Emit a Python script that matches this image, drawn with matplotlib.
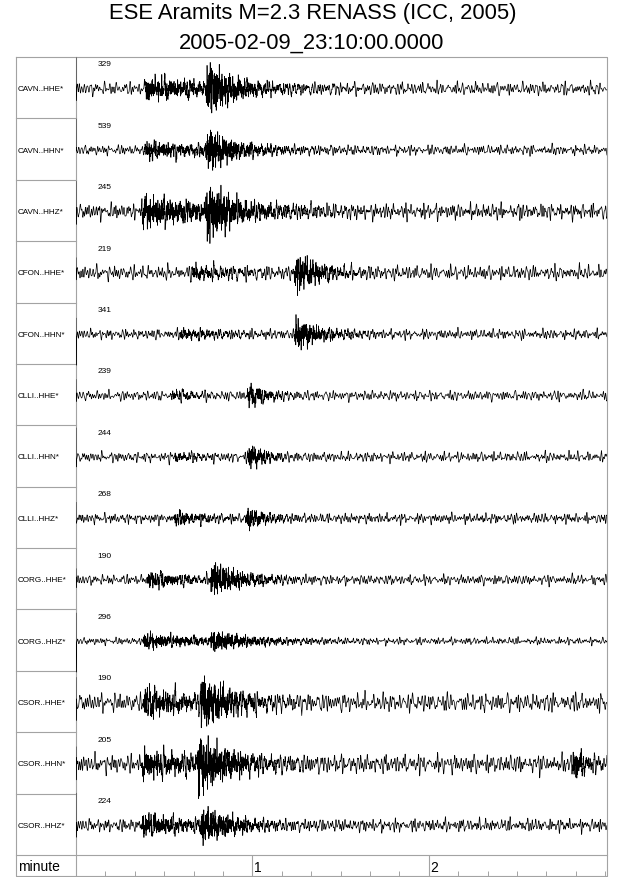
import numpy as np
import matplotlib
matplotlib.use("Agg")
import matplotlib.pyplot as plt
from matplotlib.transforms import blended_transform_factory

# ---------------- data ----------------
title = "ESE Aramits M=2.3 RENASS (ICC, 2005)"
subtitle = "2005-02-09_23:10:00.0000"
stations = ["CAVN..HHE*", "CAVN..HHN*", "CAVN..HHZ*", "CFON..HHE*", "CFON..HHN*",
            "CLLI..HHE*", "CLLI..HHN*", "CLLI..HHZ*", "CORG..HHE*", "CORG..HHZ*",
            "CSOR..HHE*", "CSOR..HHN*", "CSOR..HHZ*"]
max_counts = [329, 539, 245, 219, 341, 239, 244, 268, 190, 296, 190, 205, 224]
# background noise half-amplitude (pixels)
background_px = [4.5, 3.5, 5.5, 5.0, 3.5, 3.5, 3.5, 3.5, 3.5, 2.5, 6.5, 6.5, 4.5]
# P phase: onset (s), half-amplitude (px), decay (s)
p_onset_s = [23, 23, 22, 39, 35, 32, 33, 33, 24, 22.5, 22.5, 22, 22]
p_amp_px = [7, 5, 9, 3.5, 2.5, 2.5, 2.0, 3.5, 5, 4.5, 9, 8, 7]
p_decay_s = [25, 25, 25, 15, 15, 8, 8, 10, 12, 20, 15, 20, 15]
# S phase: onset (s), half-amplitude (px), decay (s)
s_onset_s = [44, 44, 44, 74, 74, 58, 58, 57.5, 45.5, 45.5, 42, 41, 42]
s_amp_px = [15, 12, 15, 12, 10, 7, 8, 6, 10, 5, 15, 16, 10]
s_decay_s = [8, 8, 8, 8, 8, 6, 5, 6, 10, 12, 10, 10, 10]
# a later local burst on CSOR..HHN*
extra_trace = 11
extra_onset_s = 168.5
extra_amp_px = 10
extra_decay_s = 4
# initial spike at the start of each trace (px above / below baseline)
start_top_px = [31, 31, 30, 15, 16, 16, 29, 16, 11, 28, 25, 17, 32]
start_bot_px = [12, 1, 13, 7, 31, 6, 10, 5, 8, 31, 18, 16, 12]
duration_s = 180.6
minute_ticks_s = [60, 120]
minute_labels = ["1", "2"]
minor_tick_step_s = 10

# ---------------- layout (pixels) ----------------
W, H = 640, 878
left_px, label_px, right_px = 16, 76, 607
top_px, traces_bottom_px, bottom_px = 58, 856, 877
n = len(stations)
row_h = (traces_bottom_px - top_px) / n
frame_col = "#a3a3a3"
FONT = "Liberation Sans"

fig = plt.figure(figsize=(W / 100, H / 100), dpi=100)
fig.patch.set_facecolor("white")

# overlay axes in pixel coordinates for frame and labels
ax0 = fig.add_axes([0, 0, 1, 1])
ax0.set_xlim(0, W)
ax0.set_ylim(H, 0)
ax0.axis("off")

ax0.text(312.5, 14, title, ha="center", va="center", fontsize=15.8, family=FONT)
ax0.text(311.5, 43, subtitle, ha="center", va="center", fontsize=15.8, family=FONT)

lw_f = 0.8
# outer frame
ax0.plot([left_px, right_px, right_px, left_px, left_px],
         [top_px, top_px, bottom_px, bottom_px, top_px], color=frame_col, lw=lw_f)
ax0.plot([label_px, label_px], [top_px, bottom_px], color=frame_col, lw=lw_f)
ax0.plot([left_px, right_px], [traces_bottom_px, traces_bottom_px], color=frame_col, lw=lw_f)
for i in range(1, n):
    y = top_px + i * row_h
    ax0.plot([left_px, label_px], [y, y], color=frame_col, lw=lw_f)

for i, name in enumerate(stations):
    yc = top_px + (i + 0.5) * row_h + 1
    ax0.text(left_px + 1.5, yc, name, ha="left", va="center", fontsize=5.9, family=FONT)
    ax0.text(97.5, top_px + i * row_h + 7, str(max_counts[i]), ha="left", va="center",
             fontsize=6.0, family=FONT)

ax0.text(left_px + 2, (traces_bottom_px + bottom_px) / 2 + 1, "minute", ha="left",
         va="center", fontsize=10, family=FONT)

# trace axes: x in seconds, y in pixels
ax = fig.add_axes([label_px / W, 1 - traces_bottom_px / H,
                   (right_px - label_px) / W, (traces_bottom_px - top_px) / H])
ax.set_xlim(0, duration_s)
ax.set_ylim(traces_bottom_px, top_px)
ax.axis("off")
ax.patch.set_alpha(0)

fs = 40.0
t = np.arange(0.1, duration_s, 1 / fs)
lf_freqs = [0.31, 0.43, 0.58, 0.66, 0.79, 0.87, 0.97, 1.09, 1.18, 1.31, 1.45]
hf_freqs = [2.2, 2.7, 3.3, 3.9, 4.6, 5.3, 6.1, 6.9, 7.8]


def carrier(freqs, idx, shift):
    out = np.zeros_like(t)
    for k, f in enumerate(freqs):
        ph = (idx * 2.399963 + k * 1.618034 * (idx + shift) + shift * k * k) % (2 * np.pi)
        out += np.sin(2 * np.pi * f * (1 + 0.037 * ((idx * 7) % 5) + 0.011 * k) * t + ph)
    return out / np.sqrt(len(freqs) / 2) / 1.6


def phase_env(t0, amp, dec):
    rise = np.clip((t - t0) / 0.8, 0, 1)
    fall = np.exp(-np.clip(t - t0 - 0.8, 0, None) / dec)
    return amp * rise * fall


for i in range(n):
    yc = top_px + (i + 0.5) * row_h + 1
    ev = phase_env(p_onset_s[i], p_amp_px[i], p_decay_s[i]) + \
        phase_env(s_onset_s[i], s_amp_px[i], s_decay_s[i])
    if i == extra_trace:
        ev = ev + phase_env(extra_onset_s, extra_amp_px, extra_decay_s)
    sig = background_px[i] * carrier(lf_freqs, i, 0.3) + \
        ev * carrier(hf_freqs, i, 1.7) + 0.35 * ev * carrier(lf_freqs, i, 2.9)
    xs = np.concatenate([[0, 0.03], t])
    ys = np.concatenate([[yc - start_top_px[i], yc + start_bot_px[i]], yc - sig])
    ax.plot(xs, ys, color="black", lw=0.5)

# minute row with ticks
axm = fig.add_axes([label_px / W, 1 - bottom_px / H,
                    (right_px - label_px) / W, (bottom_px - traces_bottom_px) / H])
axm.set_xlim(0, duration_s)
axm.set_ylim(0, 1)
axm.patch.set_alpha(0)
for s in axm.spines.values():
    s.set_visible(False)
axm.set_yticks([])
minor = [v for v in np.arange(minor_tick_step_s, duration_s, minor_tick_step_s)
         if v not in minute_ticks_s]
axm.set_xticks(minor)
axm.set_xticklabels([])
axm.tick_params(axis="x", direction="in", length=3.8, width=0.7, color=frame_col)
tr = blended_transform_factory(axm.transData, axm.transAxes)
for m, lab in zip(minute_ticks_s, minute_labels):
    axm.plot([m, m], [0, 1], transform=tr, color=frame_col, lw=lw_f)
    axm.text(m + 0.6, 0.45, lab, transform=tr, ha="left", va="center", fontsize=10,
             family=FONT)

fig.savefig("out.png", dpi=100)
